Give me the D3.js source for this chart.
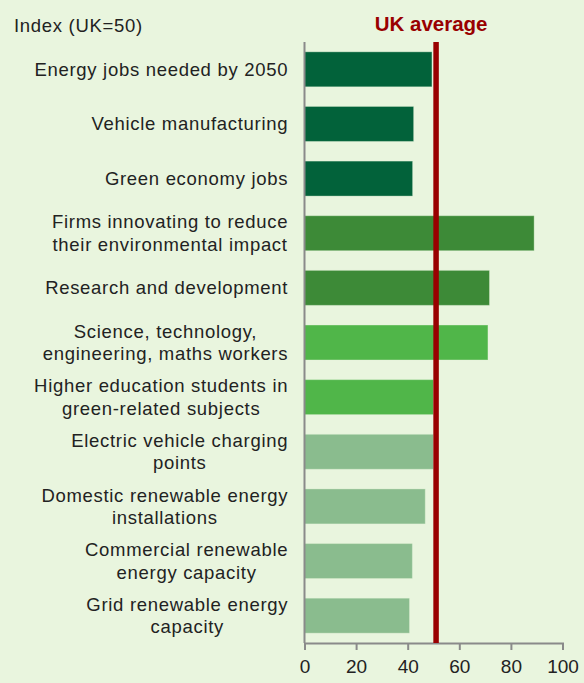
<!DOCTYPE html>
<html>
<head>
<meta charset="utf-8">
<script src="https://cdn.jsdelivr.net/npm/d3@7"></script>
<style>
  html, body { margin: 0; padding: 0; background: #e9f5de; }
  svg { display: block; font-family: "Liberation Sans", Arial, sans-serif; }
</style>
</head>
<body>
<svg id="chart" width="584" height="683"></svg>
<script>
// Indicator labels (lines split where the label wraps)
const categories = [
  ["Energy jobs needed by 2050"],
  ["Vehicle manufacturing"],
  ["Green economy jobs"],
  ["Firms innovating to reduce", "their environmental impact"],
  ["Research and development"],
  ["Science, technology,", "engineering, maths workers"],
  ["Higher education students in", "green-related subjects"],
  ["Electric vehicle charging", "points"],
  ["Domestic renewable energy", "installations"],
  ["Commercial renewable", "energy capacity"],
  ["Grid renewable energy", "capacity"]
];
// Index values, UK = 50
const values = [49.4, 42.3, 41.9, 89.0, 71.7, 71.1, 50.0, 50.0, 46.8, 41.8, 40.7];
// Colour group per indicator
const groups = [0, 0, 0, 1, 1, 2, 2, 3, 3, 3, 3];
const groupColors = ["#02623a", "#3d8a37", "#50b649", "#8abc8e"];
const ukAverage = 51;
const xTicks = [0, 20, 40, 60, 80, 100];

const svg = d3.select("#chart");
const margin = { left: 304.5, right: 22, top: 42, bottom: 40 };
const width = 584, height = 683;
const labelFont = 18.5;
const labelSpacing = 0.7;

const x = d3.scaleLinear().domain([0, 100]).range([margin.left, 562.5]);
const y = d3.scaleBand()
  .domain(d3.range(categories.length))
  .range([margin.top, height - margin.bottom])
  .paddingInner(0.36)
  .paddingOuter(0.18);

// Bars
svg.append("g")
  .selectAll("rect")
  .data(values)
  .join("rect")
  .attr("x", x(0))
  .attr("y", (d, i) => y(i))
  .attr("width", d => x(d) - x(0))
  .attr("height", y.bandwidth())
  .attr("fill", (d, i) => groupColors[groups[i]])
  .attr("stroke", "#e9f5de")
  .attr("stroke-opacity", 0.35)
  .attr("stroke-width", 1);

// Value axis
const axisY = height - margin.bottom;
const xAxis = svg.append("g")
  .attr("transform", `translate(0,${axisY})`)
  .call(d3.axisBottom(x).tickValues(xTicks).tickSize(7).tickPadding(10));
xAxis.select(".domain").attr("stroke", "#8a8a8a").attr("stroke-width", 2);
xAxis.selectAll(".tick line").attr("stroke", "#8a8a8a").attr("stroke-width", 2);
xAxis.selectAll(".tick text")
  .attr("fill", "#222")
  .attr("font-size", 19)
  .attr("font-family", "'Liberation Sans', Arial, sans-serif");

// Vertical baseline at zero
svg.append("line")
  .attr("x1", x(0)).attr("x2", x(0))
  .attr("y1", margin.top).attr("y2", axisY)
  .attr("stroke", "#8a8a8a").attr("stroke-width", 2);

// UK average reference line
svg.append("line")
  .attr("x1", x(ukAverage)).attr("x2", x(ukAverage))
  .attr("y1", margin.top).attr("y2", axisY)
  .attr("stroke", "#990000").attr("stroke-width", 5.5);

svg.append("text")
  .attr("x", x(ukAverage) - 5)
  .attr("y", 30.5)
  .attr("text-anchor", "middle")
  .attr("font-size", 20.5)
  .attr("font-weight", "bold")
  .attr("fill", "#990000")
  .text("UK average");

svg.append("text")
  .attr("x", 14)
  .attr("y", 31.5)
  .attr("font-size", labelFont)
  .attr("letter-spacing", labelSpacing)
  .attr("fill", "#222")
  .text("Index (UK=50)");

// Category labels: block right-aligned to the axis, lines centred within the block
const labelRight = 287.5 + labelSpacing;
const lineH = 22.5;
const labelG = svg.append("g");
categories.forEach((lines, i) => {
  const g = labelG.append("g");
  const cy = y(i) + y.bandwidth() / 2;
  const texts = lines.map((t, k) =>
    g.append("text")
      .attr("font-size", labelFont)
      .attr("letter-spacing", labelSpacing)
      .attr("fill", "#222")
      .attr("dy", "0.35em")
      .attr("y", cy + (k - (lines.length - 1) / 2) * lineH)
      .text(t)
  );
  const widths = texts.map(t => t.node().getComputedTextLength());
  const blockW = d3.max(widths);
  const centre = labelRight - blockW / 2;
  texts.forEach(t => t.attr("x", centre).attr("text-anchor", "middle"));
});
</script>
</body>
</html>
